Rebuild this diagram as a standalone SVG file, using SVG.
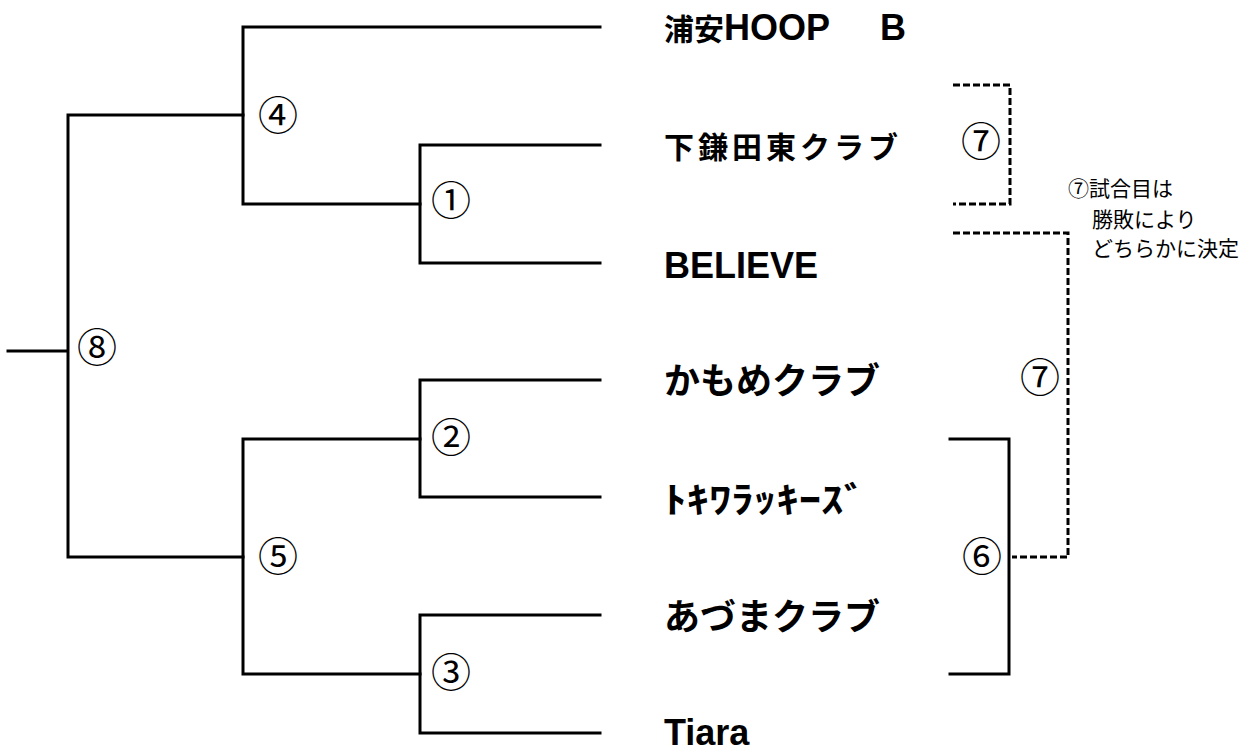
<svg xmlns="http://www.w3.org/2000/svg" width="1257" height="753" viewBox="0 0 1257 753">
<style>
.ln{fill:none;stroke:#000;stroke-width:3;stroke-linecap:square}
.ds{fill:none;stroke:#000;stroke-width:3;stroke-dasharray:7 3}
.num{font-family:"Noto Sans CJK JP",sans-serif;font-size:40px;fill:#000;text-anchor:middle}
.lat{font-family:"Liberation Sans",sans-serif;font-weight:bold;font-size:36px;fill:#000}
.cjk{font-family:"Noto Sans CJK JP",sans-serif;font-weight:bold;font-size:30px;fill:#000}
.big{font-family:"Noto Sans CJK JP",sans-serif;font-weight:bold;font-size:36px;fill:#000}
.note{font-family:"Noto Sans CJK JP",sans-serif;font-size:21px;fill:#000}
</style>
<rect width="1257" height="753" fill="#fff"/>
<g id="connectors">
<path class="ln" d="M8 351H68M68 115V557M68 115H243M68 557H243"/>
<path class="ln" d="M243 27V204M243 27H600M243 204H420"/>
<path class="ln" d="M420 145V263M420 145H600M420 263H600"/>
<path class="ln" d="M243 439V674M243 439H420M243 674H420"/>
<path class="ln" d="M420 380V497M420 380H600M420 497H600"/>
<path class="ln" d="M420 615V733M420 615H600M420 733H600"/>
<path class="ln" d="M950 439H1009V674H950"/>
<path class="ds" d="M953 85H1010V204H953"/>
<path class="ds" d="M953 233H1068V557H1012"/>
</g>
<g id="m8"><text class="num" x="97" y="362">⑧</text></g>
<g id="m4"><text class="num" x="278" y="130">④</text></g>
<g id="m1"><text class="num" x="451" y="215">①</text></g>
<g id="m5"><text class="num" x="278" y="571">⑤</text></g>
<g id="m2"><text class="num" x="451" y="452">②</text></g>
<g id="m3"><text class="num" x="451" y="687">③</text></g>
<g id="m7a"><text class="num" x="981" y="156">⑦</text></g>
<g id="m7b"><text class="num" x="1040" y="392">⑦</text></g>
<g id="m6"><text class="num" x="982" y="571">⑥</text></g>
<g id="t1"><text x="664" y="40"><tspan class="cjk">浦安</tspan><tspan class="lat" font-size="34">HOOP</tspan><tspan class="lat" font-size="34" x="880">B</tspan></text></g>
<g id="t2"><text class="cjk" x="664" y="158" letter-spacing="4">下鎌田東クラブ</text></g>
<g id="t3"><text class="lat" x="664" y="278">BELIEVE</text></g>
<g id="t4"><text class="big" x="664" y="394">かもめクラブ</text></g>
<g id="t5"><text class="big" x="664" y="513" font-size="40" textLength="202" lengthAdjust="spacingAndGlyphs">ﾄｷﾜﾗｯｷｰｽﾞ</text></g>
<g id="t6"><text class="big" x="664" y="630" font-size="37">あづまクラブ</text></g>
<g id="t7"><text class="lat" x="664" y="745" font-size="35">Tiara</text></g>
<g id="note">
<text class="note" x="1068" y="196">⑦試合目は</text>
<text class="note" x="1092" y="227">勝敗により</text>
<text class="note" x="1092" y="256">どちらかに決定</text>
</g>
</svg>
